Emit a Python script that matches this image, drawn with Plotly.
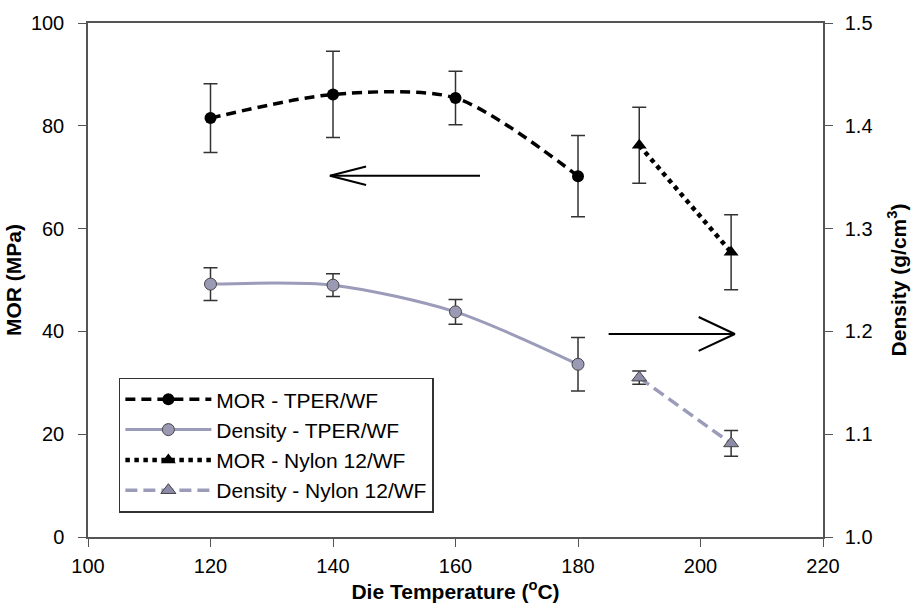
import plotly.graph_objects as go

# ---- data ----
temp_tper = [120, 140, 160, 180]
mor_tper = [81.5, 86.1, 85.4, 70.2]
mor_tper_err = [6.7, 8.4, 5.2, 7.9]
dens_tper = [1.246, 1.245, 1.219, 1.168]
dens_tper_err = [0.016, 0.011, 0.012, 0.026]

temp_nylon = [190, 205]
mor_nylon = [76.2, 55.4]
mor_nylon_err = [7.4, 7.3]
dens_nylon = [1.155, 1.091]
dens_nylon_err = [0.0065, 0.0125]

x_ticks = [100, 120, 140, 160, 180, 200, 220]
y1_ticks = [0, 20, 40, 60, 80, 100]
y2_ticks = [1.0, 1.1, 1.2, 1.3, 1.4, 1.5]
y2_labels = ["1.0", "1.1", "1.2", "1.3", "1.4", "1.5"]

# arrows (data coordinates): tail x, tip x, y
arrow_mor = [164.0, 139.5, 70.3]
arrow_dens = [185.0, 205.6, 1.1975]

FONT = "Liberation Sans, Arial, sans-serif"
LAV = "#9b9bba"
ERR = "#333333"

fig = go.Figure()

fig.add_trace(go.Scatter(
    x=temp_tper, y=mor_tper, name="MOR - TPER/WF", mode="lines+markers",
    line=dict(color="black", width=3.5, dash="10px,6px", shape="spline", smoothing=0.8),
    marker=dict(symbol="circle", size=12, color="black"),
    error_y=dict(type="data", array=mor_tper_err, color=ERR, thickness=1.5, width=7),
))
fig.add_trace(go.Scatter(
    x=temp_tper, y=dens_tper, name="Density - TPER/WF", mode="lines+markers", yaxis="y2",
    line=dict(color=LAV, width=3, shape="spline", smoothing=0.8),
    marker=dict(symbol="circle", size=12, color="#9a9ab4", line=dict(color="#444444", width=1)),
    error_y=dict(type="data", array=dens_tper_err, color=ERR, thickness=1.5, width=7),
))
fig.add_trace(go.Scatter(
    x=temp_nylon, y=mor_nylon, name="MOR - Nylon 12/WF", mode="lines+markers",
    line=dict(color="black", width=4.5, dash="4.5px,4.5px"),
    marker=dict(symbol="triangle-up", size=13, color="black"),
    error_y=dict(type="data", array=mor_nylon_err, color=ERR, thickness=1.5, width=7),
))
fig.add_trace(go.Scatter(
    x=temp_nylon, y=dens_nylon, name="Density - Nylon 12/WF", mode="lines+markers", yaxis="y2",
    line=dict(color=LAV, width=3.5, dash="12px,6px"),
    marker=dict(symbol="triangle-up", size=13, color="#8c8ca8", line=dict(color="#444444", width=1)),
    error_y=dict(type="data", array=dens_nylon_err, color=ERR, thickness=1.5, width=7),
))

# arrows
hx, hy1, hy2 = 5.9, 1.8, 0.0165
fig.add_trace(go.Scatter(
    x=[arrow_mor[0], arrow_mor[1], None, arrow_mor[1] + hx, arrow_mor[1], arrow_mor[1] + hx],
    y=[arrow_mor[2], arrow_mor[2], None, arrow_mor[2] + hy1, arrow_mor[2], arrow_mor[2] - hy1],
    mode="lines", line=dict(color="black", width=2), showlegend=False, hoverinfo="skip",
))
fig.add_trace(go.Scatter(
    x=[arrow_dens[0], arrow_dens[1], None, arrow_dens[1] - hx, arrow_dens[1], arrow_dens[1] - hx],
    y=[arrow_dens[2], arrow_dens[2], None, arrow_dens[2] + hy2, arrow_dens[2], arrow_dens[2] - hy2],
    mode="lines", line=dict(color="black", width=2), showlegend=False, hoverinfo="skip", yaxis="y2",
))

axis_common = dict(showgrid=False, zeroline=False, showline=True, linecolor="#555555", linewidth=1.5,
                   ticks="outside", ticklen=8, tickcolor="#555555",
                   tickfont=dict(family=FONT, size=20, color="black"))
title_font = dict(family=FONT, size=21, weight="bold", color="black")

fig.update_layout(
    width=920, height=611,
    margin=dict(l=88, r=97, t=21, b=74),
    paper_bgcolor="white", plot_bgcolor="white",
    font=dict(family=FONT, color="black"),
    xaxis=dict(range=[100, 220], tickvals=x_ticks, mirror=True, ticklabelstandoff=2,
               title=dict(text="Die Temperature (<sup>o</sup>C)", font=title_font, standoff=6),
               **axis_common),
    yaxis=dict(range=[0, 100], tickvals=y1_ticks, ticklabelstandoff=10,
               title=dict(text="MOR (MPa)", font=title_font, standoff=4),
               **axis_common),
    yaxis2=dict(range=[1.0, 1.5], tickvals=y2_ticks, ticktext=y2_labels, overlaying="y", side="right",
                ticklabelstandoff=8,
                title=dict(text="Density (g/cm<sup>3</sup>)", font=title_font, standoff=20),
                **axis_common),
    legend=dict(x=0.042, y=0.31, xanchor="left", yanchor="top",
                bgcolor="white", bordercolor="#333333", borderwidth=1.5,
                font=dict(family=FONT, size=21, color="black"), itemwidth=86,
                tracegroupgap=0),
    showlegend=True,
)

fig.write_html("out.html")
